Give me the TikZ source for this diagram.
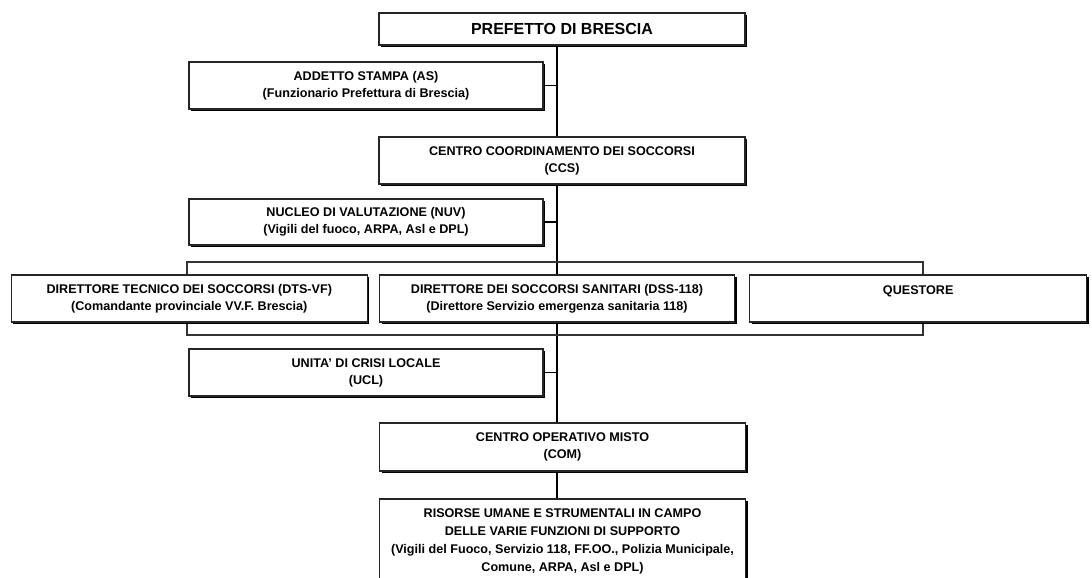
\documentclass[tikz,border=0pt]{standalone}
\usepackage{fontspec}
\setmainfont{Liberation Sans}
\usetikzlibrary{positioning, shadows, backgrounds}

\begin{document}
\begin{tikzpicture}[x=1pt, y=-1pt,%
  box/.style={draw=black!85, line width=1.2pt, fill=white, align=center, inner sep=0pt,
    font=\fontsize{12.6}{17}\selectfont\bfseries,
    drop shadow={shadow xshift=2pt, shadow yshift=-2pt, opacity=1, fill=black}},
  wide/.style={box, minimum width=366pt, minimum height=47pt},
  side/.style={box, minimum width=354pt, minimum height=47pt},
  row/.style={box, minimum height=47pt},
  link/.style={draw=black, line width=1.5pt}
  ]
  \clip (0,0) rectangle (1092,578);
  \node[box, minimum width=366pt, minimum height=32pt,
    font=\fontsize{16}{19}\selectfont\bfseries] (prefetto) at (562,29) {PREFETTO DI BRESCIA};
  \node[side] (as) at (366,85.5) {ADDETTO STAMPA (AS)\\(Funzionario Prefettura di Brescia)};
  \node[wide] (ccs) at (562,160.5) {CENTRO COORDINAMENTO DEI SOCCORSI\\(CCS)};
  \node[side, minimum height=46pt] (nuv) at (366,222) {NUCLEO DI VALUTAZIONE (NUV)\\(Vigili del fuoco, ARPA, Asl e DPL)};
  % frame round the three directors
  \node[draw=black!80, line width=1.2pt, minimum width=736pt, minimum height=73pt] (grp) at (555,298.5) {};
  \node[row, minimum width=355pt] (dss) at (557,298.5) {DIRETTORE DEI SOCCORSI SANITARI (DSS-118)\\(Direttore Servizio emergenza sanitaria 118)};
  \node[row, minimum width=356pt, left=11pt of dss] (dts) {DIRETTORE TECNICO DEI SOCCORSI (DTS-VF)\\(Comandante provinciale VV.F. Brescia)};
  \node[row, minimum width=337pt, right=14pt of dss] (q) {QUESTORE\\\mbox{}};
  \node[side] (ucl) at (366,372.5) {UNITA' DI CRISI LOCALE\\(UCL)};
  \node[wide, minimum height=48pt] (com) at (562.5,447) {CENTRO OPERATIVO MISTO\\(COM)};
  \node[wide, minimum height=85pt, font=\fontsize{12.6}{18}\selectfont\bfseries] (ris) at (562.5,541.5)
    {RISORSE UMANE E STRUMENTALI IN CAMPO\\DELLE VARIE FUNZIONI DI SUPPORTO\\(Vigili del Fuoco, Servizio 118, FF.OO., Polizia Municipale,\\Comune, ARPA, Asl e DPL)};
  \begin{scope}[on background layer]
    \draw[link] (prefetto.south -| dss.north) -- (ccs.north -| dss.north);
    \draw[link] (ccs.south -| dss.north) -- (com.north -| dss.north);
    \draw[link] (com.south -| dss.north) -- (ris.north -| dss.north);
    \draw[link] (as.east) -- (as.east -| dss.north);
    \draw[link] (nuv.east) -- (nuv.east -| dss.north);
    \draw[link] (ucl.east) -- (ucl.east -| dss.north);
  \end{scope}
\end{tikzpicture}
\end{document}
